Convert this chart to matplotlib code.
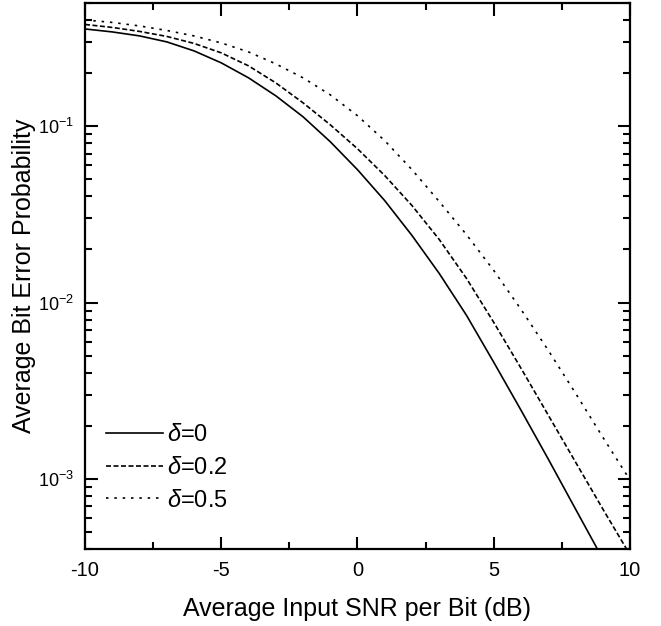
import math
import matplotlib
matplotlib.use("Agg")
import matplotlib.pyplot as plt
from matplotlib.ticker import LogLocator, FixedLocator, NullFormatter, FuncFormatter

plt.rcParams['font.family'] = ['Liberation Sans', 'DejaVu Sans']
plt.rcParams['mathtext.fontset'] = 'custom'
plt.rcParams['mathtext.rm'] = 'Liberation Sans'
plt.rcParams['mathtext.it'] = 'Liberation Sans:italic'
plt.rcParams['axes.unicode_minus'] = False

snr_db = [-10, -9, -8, -7, -6, -5, -4, -3, -2, -1, 0, 1, 2, 3, 4, 5, 6, 7, 8, 9, 10]

ber_d0 = [0.3576, 0.344, 0.3266, 0.302, 0.2685, 0.2296, 0.1888, 0.1493, 0.1135, 0.0819,
          0.0568, 0.0379, 0.02403, 0.01463, 0.008464, 0.004583, 0.002449, 0.001293, 0.000673,
          0.000351, 0.000183]
ber_d02 = [0.3793, 0.3648, 0.3463, 0.3244, 0.2960, 0.2616, 0.2208, 0.1768, 0.1362, 0.1022,
           0.0747, 0.0526, 0.03554, 0.02281, 0.01371, 0.00772, 0.004238, 0.002296, 0.001244,
           0.000674, 0.000370]
ber_d05 = [0.4023, 0.3895, 0.3720, 0.3507, 0.3265, 0.2979, 0.2649, 0.2266, 0.1888, 0.1512,
           0.1150, 0.0830, 0.0568, 0.03745, 0.0243, 0.01522, 0.00915, 0.00536, 0.00306,
           0.001723, 0.000983]

labels = [r'$\delta$=0', r'$\delta$=0.2', r'$\delta$=0.5']

fig = plt.figure(figsize=(6.61, 6.26), dpi=100)
ax = fig.add_axes([0.1286, 0.1235, 0.8244, 0.8712])

ax.plot(snr_db, ber_d0, color='black', lw=1.2, ls='-', label=labels[0])
ax.plot(snr_db, ber_d02, color='black', lw=1.2, ls=(0, (3, 1.5)), label=labels[1])
ax.plot(snr_db, ber_d05, color='black', lw=1.2, ls=(0, (1.5, 3.5)), label=labels[2])

ax.set_yscale('log')
ax.set_xlim(-10, 10)
ax.set_ylim(4e-4, 0.5)

ax.xaxis.set_major_locator(FixedLocator([-10, -5, 0, 5, 10]))
ax.xaxis.set_minor_locator(FixedLocator([-7.5, -2.5, 2.5, 7.5]))
ax.yaxis.set_major_locator(FixedLocator([1e-3, 1e-2, 1e-1]))
ax.yaxis.set_minor_locator(LogLocator(base=10, subs=range(2, 10)))
ax.yaxis.set_minor_formatter(NullFormatter())

def yfmt(v, pos):
    e = int(round(math.log10(v)))
    return r'$10^{%d}$' % e
ax.yaxis.set_major_formatter(FuncFormatter(yfmt))

ax.tick_params(which='both', direction='in', top=True, right=True, width=1.5)
ax.tick_params(which='major', length=9)
ax.tick_params(which='minor', length=5)
ax.tick_params(axis='x', which='major', labelsize=14.5, pad=9)
ax.tick_params(axis='y', which='major', labelsize=13, pad=8)
for s in ax.spines.values():
    s.set_linewidth(1.6)

ax.set_xlabel('Average Input SNR per Bit (dB)', fontsize=18)
ax.set_ylabel('Average Bit Error Probability', fontsize=18)
ax.xaxis.set_label_coords(0.5, -0.088)
ax.yaxis.set_label_coords(-0.09, 0.5)

ax.legend(loc='lower left', bbox_to_anchor=(0.0385, 0.068), frameon=False, fontsize=17,
          handlelength=2.4, handletextpad=0.2, labelspacing=0.45, borderaxespad=0,
          borderpad=0)

fig.savefig('out.png', dpi=100)
